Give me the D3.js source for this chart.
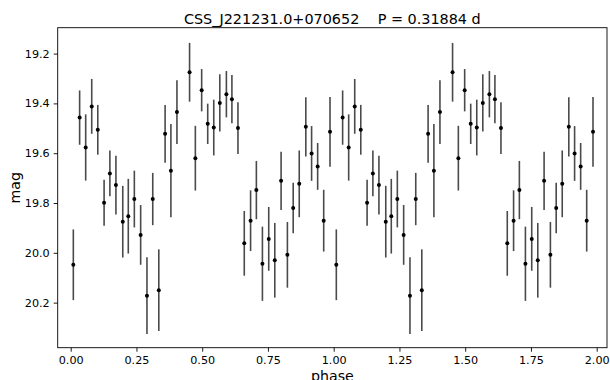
<!DOCTYPE html>
<html>
<head>
<meta charset="utf-8">
<script src="https://cdn.jsdelivr.net/npm/d3@7"></script>
<style>
  html, body { margin: 0; padding: 0; background: #fff; }
  svg { display: block; font-family: "DejaVu Sans", sans-serif; }
</style>
</head>
<body>
<svg id="chart" width="610" height="380"></svg>
<script>
// Folded light curve: phase, magnitude and 1-sigma error of each observation
const phase = [0.010,0.034,0.057,0.080,0.103,0.127,0.149,0.172,0.198,0.219,0.242,0.266,0.290,0.312,0.335,0.359,0.381,0.404,0.452,0.474,0.498,0.521,0.544,0.567,0.592,0.613,0.636,0.660,0.684,0.706,0.729,0.753,0.776,0.800,0.824,0.846,0.869,0.894,0.916,0.939,0.962,0.986];
const mag = [20.048,19.457,19.577,19.412,19.506,19.799,19.681,19.728,19.875,19.853,19.784,19.928,20.172,19.784,20.150,19.522,19.670,19.435,19.275,19.620,19.347,19.482,19.497,19.398,19.363,19.383,19.499,19.962,19.871,19.748,20.044,19.944,20.030,19.711,20.008,19.820,19.723,19.494,19.601,19.653,19.871,19.514];
const magErr = [0.142,0.109,0.133,0.110,0.100,0.092,0.092,0.118,0.144,0.150,0.114,0.120,0.154,0.105,0.164,0.116,0.187,0.128,0.118,0.130,0.085,0.081,0.112,0.115,0.093,0.097,0.104,0.130,0.122,0.117,0.149,0.128,0.150,0.117,0.132,0.101,0.134,0.119,0.110,0.094,0.124,0.140];
// Two cycles are shown: each observation appears at phase and phase + 1
const cycles = [0, 1];

const xTicks = [0, 0.25, 0.5, 0.75, 1, 1.25, 1.5, 1.75, 2];
const yTicks = [19.2, 19.4, 19.6, 19.8, 20.0, 20.2];
const titleText = "CSS_J221231.0+070652    P = 0.31884 d";

const svg = d3.select("#chart");
const box = { left: 57.7, right: 607, top: 27.7, bottom: 347.7 };

const x = d3.scaleLinear().domain([-0.0494, 2.0392]).range([box.left, box.right]);
const y = d3.scaleLinear().domain([19.096, 20.381]).range([box.top, box.bottom]);

const rows = [];
cycles.forEach(c => phase.forEach((p, i) => rows.push({ p: p + c, m: mag[i], e: magErr[i] })));

const plot = svg.append("g");

// error bars
plot.selectAll("line.err").data(rows).join("line")
  .attr("class", "err")
  .attr("x1", d => x(d.p)).attr("x2", d => x(d.p))
  .attr("y1", d => y(d.m - d.e)).attr("y2", d => y(d.m + d.e))
  .attr("stroke", "#4a4a4a").attr("stroke-width", 1.6);

// points
plot.selectAll("circle.pt").data(rows).join("circle")
  .attr("class", "pt")
  .attr("cx", d => x(d.p)).attr("cy", d => y(d.m))
  .attr("r", 2).attr("fill", "#000");

// axes
const xAxis = d3.axisBottom(x).tickValues(xTicks).tickFormat(d3.format(".2f"))
  .tickSize(4).tickPadding(4);
const yAxis = d3.axisLeft(y).tickValues(yTicks).tickFormat(d3.format(".1f"))
  .tickSize(4).tickPadding(4);

const gx = svg.append("g").attr("transform", `translate(0,${box.bottom})`).call(xAxis);
const gy = svg.append("g").attr("transform", `translate(${box.left},0)`).call(yAxis);
[gx, gy].forEach(g => {
  g.select(".domain").remove();
  g.selectAll(".tick line").attr("stroke", "#000").attr("stroke-width", 0.9);
  g.selectAll(".tick text").attr("fill", "#000")
    .style("font-family", "DejaVu Sans, sans-serif").style("font-size", "11.2px");
});

// frame
svg.append("rect")
  .attr("x", box.left).attr("y", box.top)
  .attr("width", box.right - box.left).attr("height", box.bottom - box.top)
  .attr("fill", "none").attr("stroke", "#000").attr("stroke-width", 0.9);

// title and axis labels
svg.append("text")
  .attr("x", (box.left + box.right) / 2).attr("y", 24)
  .attr("text-anchor", "middle").style("font-size", "14.4px")
  .style("white-space", "pre")
  .text(titleText);

svg.append("text")
  .attr("x", (box.left + box.right) / 2).attr("y", 381)
  .attr("text-anchor", "middle").style("font-size", "14.2px")
  .text("phase");

svg.append("text")
  .attr("transform", `translate(20,${(box.top + box.bottom) / 2}) rotate(-90)`)
  .attr("text-anchor", "middle").style("font-size", "14.2px")
  .text("mag");
</script>
</body>
</html>
